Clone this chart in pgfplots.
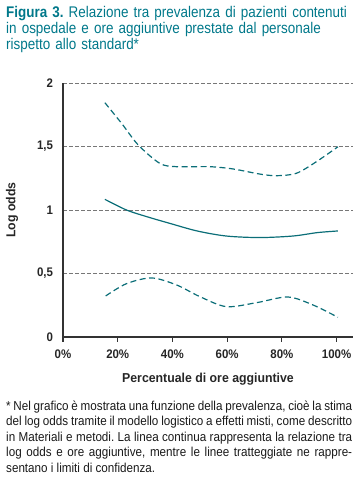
\documentclass[border=0pt]{standalone}
\usepackage{fontspec}
\setmainfont{Liberation Sans}
\newfontfamily\titlefont{Liberation Sans}[FakeStretch=0.87]
\newfontfamily\notefont{Liberation Sans}[FakeStretch=0.9]
\newfontfamily\tickfont{Liberation Sans}[FakeStretch=0.92]
\newfontfamily\labfont{Liberation Sans}[FakeStretch=0.95]
\usepackage{pgfplots}
\pgfplotsset{compat=1.18}
\frenchspacing
\definecolor{teal1}{HTML}{0B6E78}
\definecolor{titleteal}{HTML}{00788A}
\definecolor{gridgray}{HTML}{777777}
\definecolor{axisgray}{HTML}{333333}
\begin{document}
\begin{tikzpicture}
\path[use as bounding box] (0,0) rectangle (359bp,489bp);
\node[anchor=north west, inner sep=0pt, text width=354bp, align=left, text=titleteal,
      font=\titlefont\fontsize{15.5}{16.2}\selectfont] at (6bp,483bp)
  {\textbf{Figura 3.} Relazione tra prevalenza di pazienti contenuti\\
   in ospedale e ore aggiuntive prestate dal personale\\
   rispetto allo standard*};
\begin{axis}[
  scale only axis,
  width=290bp, height=254bp,
  at={(63bp,152bp)}, anchor=south west,
  xmin=0, xmax=106, ymin=0, ymax=2,
  axis x line=bottom, axis y line=left,
  axis line style={-, axisgray, line width=1.2pt},
  xtick={0,20,40,60,80,100},
  xticklabels={0\%,20\%,40\%,60\%,80\%,100\%},
  ytick={0,0.5,1,1.5,2},
  yticklabels={0,{0,5},1,{1,5},2},
  x tick style={axisgray, line width=1.2pt},
  xtick align=outside,
  major tick length=5bp,
  y tick style={draw=none},
  ymajorgrids,
  grid style={gridgray, dash pattern=on 4bp off 2bp, line width=0.7pt},
  tick label style={font=\tickfont\bfseries\fontsize{12.5}{13}\selectfont, text=black!85},
  xticklabel style={yshift=-4bp},
  yticklabel style={xshift=-4bp},
  xlabel={Percentuale di ore aggiuntive},
  ylabel={Log odds},
  label style={font=\labfont\bfseries\fontsize{13}{14}\selectfont, text=black!85},
  xlabel style={at={(axis description cs:0.5,-0.181)}, anchor=base},
  ylabel style={at={(axis description cs:-0.176,0.5)}, anchor=center},
  clip=false,
]
\addplot[teal1, line width=1.2pt, smooth] coordinates {
 (15.3,1.084) (23.2,1.00) (31,0.945) (39,0.895) (49,0.835) (59.7,0.795) (71.9,0.783) (84,0.795) (93,0.822) (100.5,0.835)};
\addplot[teal1, line width=1.2pt, dash pattern=on 6bp off 3.5bp, smooth] coordinates {
 (15.3,1.845) (21.5,1.68) (27.5,1.512) (35.4,1.367) (41.5,1.341) (53.6,1.341) (62.2,1.323) (71.9,1.283) (78,1.27) (85.3,1.289) (92.6,1.38) (100.5,1.498)};
\addplot[teal1, line width=1.2pt, dash pattern=on 6bp off 3.5bp, smooth] coordinates {
 (15.6,0.323) (23.2,0.42) (32.4,0.465) (41.5,0.41) (50,0.318) (59.7,0.239) (70.7,0.27) (82.2,0.315) (91.4,0.252) (100.5,0.155)};
\end{axis}
\node[anchor=north west, inner sep=0pt, text width=346bp, align=justify, text=black!90,
      font=\notefont\fontsize{13}{15.5}\selectfont] at (6bp,88.5bp)
  {* Nel grafico è mostrata una funzione della prevalenza, cioè la stima\linebreak
   del log odds tramite il modello logistico a effetti misti, come descritto\linebreak
   in Materiali e metodi. La linea continua rappresenta la relazione tra\linebreak
   log odds e ore aggiuntive, mentre le linee tratteggiate ne rappre-\linebreak
   sentano i limiti di confidenza.};
\end{tikzpicture}
\end{document}
